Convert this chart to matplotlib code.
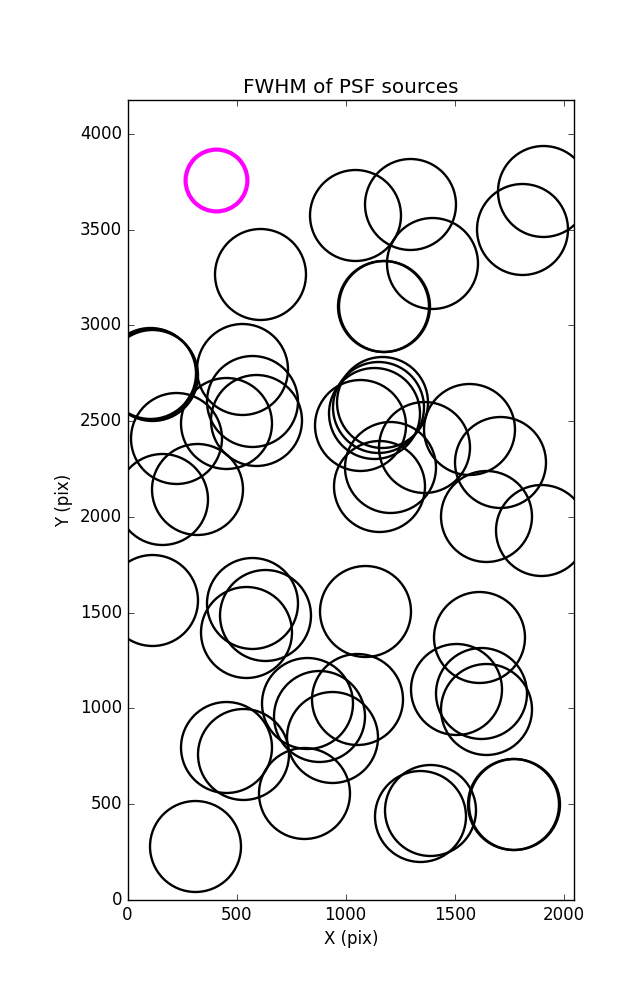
import numpy as np
import matplotlib
matplotlib.use('Agg')
import matplotlib.pyplot as plt

# source positions (pix)
x_src = [308, 453, 530, 810, 939, 877, 821, 1051, 1339, 1388, 1768, 1770,
         1506, 1622, 1645, 1610, 1088, 112, 572, 628, 541, 160, 319, 223,
         450, 589, 569, 523, 103, 106, 110, 1065, 1130, 1148, 1168, 1204,
         1151, 1357, 1565, 1706, 1645, 1897, 1171, 1174, 1044, 1296, 1397,
         1809, 1903, 607]
y_src = [283, 801, 762, 557, 852, 961, 1027, 1048, 437, 471, 501, 499,
         1103, 1080, 996, 1374, 1509, 1568, 1550, 1486, 1400, 2094, 2144, 2412,
         2488, 2504, 2607, 2770, 2752, 2745, 2740, 2477, 2544, 2571, 2599, 2260,
         2160, 2363, 2459, 2284, 2003, 1929, 3103, 3100, 3575, 3635, 3327,
         3505, 3699, 3268]

# reference star
x_ref = [405]
y_ref = [3760]

plt.style.use('classic')
fig = plt.figure(figsize=(6.37, 10), dpi=100, facecolor='white')
ax = fig.add_axes([0.2002, 0.1, 0.7014, 0.8])

# hollow circles, one per source
ax.plot(x_src, y_src, 'o', mfc='none', mec='black', ms=65.5, mew=1.7)
ax.plot(x_ref, y_ref, 'o', mfc='none', mec='magenta', ms=44.5, mew=3)

ax.set_xlim(0, 2048)
ax.set_ylim(0, 4176)
ax.set_xticks(np.arange(0, 2001, 500))
ax.set_yticks(np.arange(0, 4001, 500))
ax.tick_params(labelsize=12)

ax.set_title('FWHM of PSF sources', fontsize=14.4)
ax.set_xlabel('X (pix)', fontsize=12)
ax.set_ylabel('Y (pix)', fontsize=12)

fig.savefig('out.png', dpi=100, facecolor='white')
